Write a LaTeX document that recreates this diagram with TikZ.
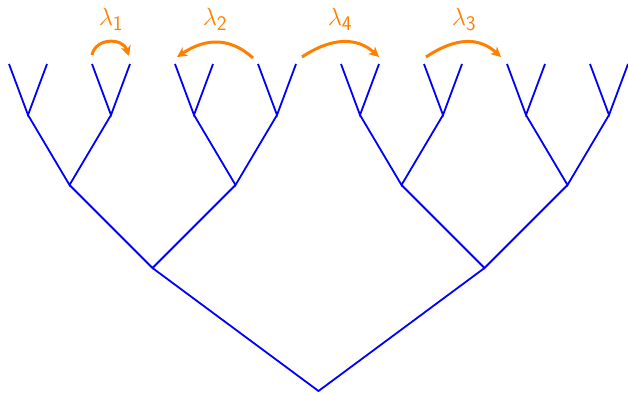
\documentclass[tikz,border=0pt]{standalone}
\usetikzlibrary{arrows.meta}
\begin{document}
\begin{tikzpicture}[x=1pt,y=-1pt,
  branch/.style={blue,line width=1.8pt},
  swap/.style={orange,line width=3pt,-{Stealth[length=10pt,width=10pt,inset=3pt]}},
  lab/.style={orange,font=\fontsize{31}{36}\selectfont,inner sep=0pt}]
\useasboundingbox (0,0) rectangle (628,394);
% root and inner levels
\coordinate (r) at (318.5,391);
\coordinate (a1) at (152.5,268);
\coordinate (a2) at (484.5,268);
\foreach \i/\x in {1/69.5,2/235.5,3/401.5,4/567.5}
  \coordinate (b\i) at (\x,185);
\foreach \i in {1,...,8}{
  \coordinate (c\i) at ({28+83*(\i-1)},115);
  \coordinate (l\i) at ({28+83*(\i-1)-19},64);
  \coordinate (m\i) at ({28+83*(\i-1)+19},64);
}
\draw[branch] (a1) -- (r) -- (a2);
\draw[branch] (b1) -- (a1) -- (b2);
\draw[branch] (b3) -- (a2) -- (b4);
\draw[branch] (c1) -- (b1) -- (c2);
\draw[branch] (c3) -- (b2) -- (c4);
\draw[branch] (c5) -- (b3) -- (c6);
\draw[branch] (c7) -- (b4) -- (c8);
\foreach \i in {1,...,8}
  \draw[branch] (l\i) -- (c\i) -- (m\i);
% swap arrows
\coordinate (s1) at ([shift={(0,-9)}]l2);
\coordinate (e1) at ([shift={(-1,-8)}]m2);
\coordinate (s2) at ([shift={(-5,-6)}]l4);
\coordinate (e2) at ([shift={(2,-7)}]l3);
\coordinate (s4) at ([shift={(6,-7)}]m4);
\coordinate (e4) at ([shift={(0,-7)}]m5);
\coordinate (s3) at ([shift={(2,-7)}]l6);
\coordinate (e3) at ([shift={(-6,-7)}]l7);
\draw[swap] (s1) .. controls ([shift={(4,-18)}]s1) and ([shift={(-6,-18)}]e1) .. (e1);
\draw[swap] (s2) .. controls ([shift={(-22,-20)}]s2) and ([shift={(30,-20)}]e2) .. (e2);
\draw[swap] (s4) .. controls ([shift={(30,-20)}]s4) and ([shift={(-22,-20)}]e4) .. (e4);
\draw[swap] (s3) .. controls ([shift={(30,-20)}]s3) and ([shift={(-22,-20)}]e3) .. (e3);
% labels
\node[lab] (t1) at (111,19) {$\lambda_{\mathsf{1}}$};
\node[lab] (t2) at (215,19) {$\lambda_{\mathsf{2}}$};
\node[lab] (t4) at (340,19) {$\lambda_{\mathsf{4}}$};
\node[lab] (t3) at (464,19) {$\lambda_{\mathsf{3}}$};
\end{tikzpicture}
\end{document}
